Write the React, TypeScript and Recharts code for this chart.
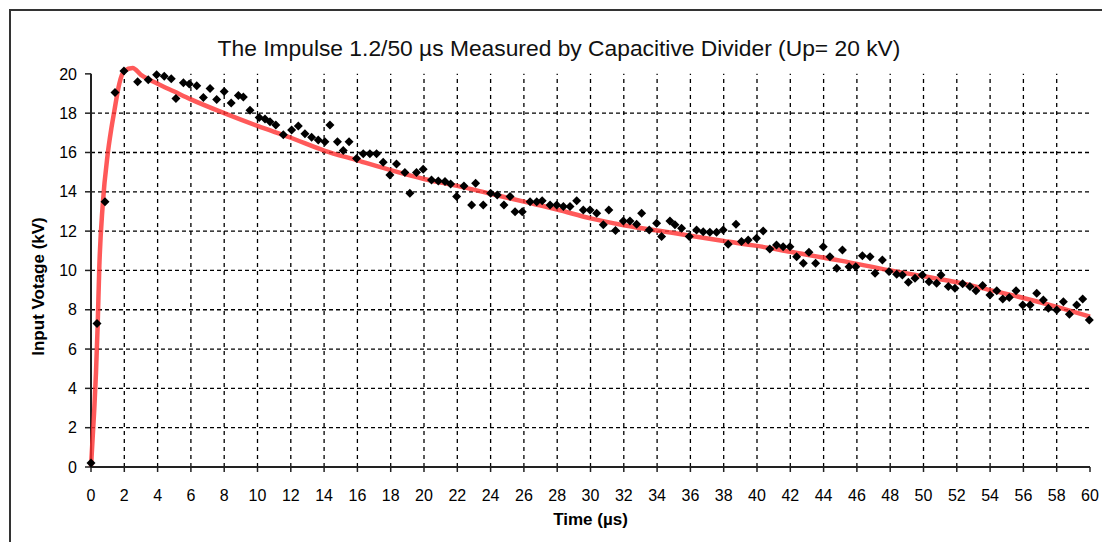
import { ComposedChart, Scatter, Line, XAxis, YAxis, ReferenceLine } from 'recharts'

const measuredTime = [
  0, 0.36, 0.84, 1.44, 1.98, 2.8, 3.44, 3.94, 4.4, 4.82, 5.1, 5.55, 5.9, 6.35, 6.75, 7.15, 7.55, 8.0, 8.42, 8.85,
  9.15, 9.55, 10.1, 10.45, 10.75, 11.1, 11.55, 12.05, 12.45, 12.85, 13.25, 13.65, 14.05, 14.35, 14.8, 15.15, 15.5,
  15.95, 16.35, 16.75, 17.15, 17.55, 17.95, 18.35, 18.85, 19.15, 19.55, 19.95, 20.45, 20.86, 21.26, 21.6, 21.96,
  22.4, 22.86, 23.1, 23.56, 24.0, 24.4, 24.8, 25.17, 25.47, 25.9, 26.37, 26.77, 27.1, 27.57, 27.97, 28.37, 28.77,
  29.17, 29.57, 29.97, 30.37, 30.77, 31.1, 31.5, 31.97, 32.37, 32.77, 33.07, 33.53, 33.97, 34.27, 34.77, 35.07,
  35.47, 35.93, 36.37, 36.77, 37.17, 37.57, 37.97, 38.27, 38.74, 39.07, 39.47, 39.97, 40.37, 40.77, 41.17, 41.57,
  41.98, 42.38, 42.78, 43.12, 43.52, 43.98, 44.38, 44.79, 45.13, 45.53, 45.93, 46.33, 46.79, 47.09, 47.53, 47.93,
  48.39, 48.73, 49.09, 49.49, 49.93, 50.33, 50.79, 51.05, 51.49, 51.89, 52.35, 52.79, 53.15, 53.55, 53.99, 54.4,
  54.76, 55.15, 55.56, 55.96, 56.4, 56.8, 57.2, 57.5, 58.0, 58.4, 58.76, 59.2, 59.56, 59.96,
]
const measuredVoltage = [
  0.2, 7.3, 13.5, 19.05, 20.15, 19.6, 19.7, 19.95, 19.88, 19.75, 18.75, 19.55, 19.48, 19.4, 18.8, 19.25, 18.7, 19.1,
  18.52, 18.9, 18.82, 18.15, 17.78, 17.7, 17.57, 17.4, 16.9, 17.15, 17.35, 16.95, 16.78, 16.64, 16.55, 17.4, 16.55,
  16.1, 16.55, 15.7, 15.93, 15.93, 15.93, 15.5, 14.86, 15.42, 14.98, 13.93, 14.98, 15.15, 14.6, 14.55, 14.52, 14.4,
  13.76, 14.3, 13.33, 14.44, 13.33, 13.93, 13.84, 13.33, 13.76, 12.99, 12.99, 13.5, 13.5, 13.55, 13.33, 13.33,
  13.25, 13.25, 13.55, 13.08, 13.08, 12.91, 12.32, 13.08, 12.03, 12.52, 12.52, 12.35, 12.91, 12.06, 12.4, 11.72,
  12.52, 12.32, 12.15, 11.72, 12.06, 11.97, 11.94, 11.94, 12.06, 11.33, 12.35, 11.47, 11.55, 11.64, 12.01, 11.09,
  11.3, 11.21, 11.21, 10.7, 10.37, 10.92, 10.37, 11.21, 10.7, 10.11, 11.04, 10.19, 10.19, 10.75, 10.7, 9.86, 10.53,
  9.94, 9.81, 9.77, 9.4, 9.6, 9.77, 9.43, 9.35, 9.77, 9.18, 9.09, 9.32, 9.18, 8.96, 9.23, 8.75, 8.96, 8.55, 8.62,
  8.96, 8.24, 8.24, 8.84, 8.5, 8.08, 7.99, 8.41, 7.77, 8.24, 8.55, 7.48,
]

// fitted 1.2/50 curve
const fitTime = [
  0, 0.1, 0.2, 0.3, 0.4, 0.5, 0.7, 1.0, 1.2, 1.4, 1.7, 2.0, 2.5, 3, 4, 5, 6, 8, 10, 12, 14, 16, 18, 20, 22, 24, 26,
  28, 30, 32, 35, 38, 40, 42, 45, 48, 50, 52, 54, 56, 58, 60,
]
const fitVoltage = [
  0, 1.5, 3.0, 4.8, 7.2, 10.2, 13.3, 15.9, 17.1, 18.1, 19.5, 20.15, 20.3, 19.95, 19.5, 19.1, 18.7, 18.0, 17.35,
  16.75, 16.1, 15.6, 15.1, 14.65, 14.3, 13.9, 13.5, 13.1, 12.65, 12.3, 11.9, 11.5, 11.25, 10.95, 10.5, 10.0, 9.7,
  9.4, 9.0, 8.6, 8.15, 7.65,
]

const xTicks = [0, 2, 4, 6, 8, 10, 12, 14, 16, 18, 20, 22, 24, 26, 28, 30, 32, 34, 36, 38, 40, 42, 44, 46, 48, 50, 52, 54, 56, 58, 60]
const yTicks = [0, 2, 4, 6, 8, 10, 12, 14, 16, 18, 20]
const gridX = [2, 4, 6, 8, 10, 12, 14, 16, 18, 20, 22, 24, 26, 28, 30, 32, 34, 36, 38, 40, 42, 44, 46, 48, 50, 52, 54, 56, 58]
const gridY = [2, 4, 6, 8, 10, 12, 14, 16, 18]

const measured = measuredTime.map((t, i) => ({ t, v: measuredVoltage[i] }))
const fit = fitTime.map((t, i) => ({ t, v: fitVoltage[i] }))

const FONT = '"Liberation Sans", Arial, sans-serif'

const Diamond = (props: any) => {
  const { cx, cy } = props
  const r = 4.5
  return <path d={`M${cx},${cy - r}L${cx + r},${cy}L${cx},${cy + r}L${cx - r},${cy}Z`} fill="#000" />
}

const YLabel = (props: any) => {
  const { viewBox } = props
  const x = viewBox.x + 27
  const y = viewBox.y + viewBox.height / 2 + 20
  return (
    <text x={x} y={y} transform={`rotate(-90 ${x} ${y})`} textAnchor="middle" dominantBaseline="central"
      style={{ fontFamily: FONT, fontSize: 17, fontWeight: 'bold', fill: '#000' }}>
      Input Votage (kV)
    </text>
  )
}

export default function App() {
  return (
    <div style={{ position: 'absolute', left: 9, top: 9, width: 1091, height: 531, borderLeft: '2px solid #333', borderTop: '2px solid #333', fontFamily: FONT, overflow: 'hidden' }}>
      <div style={{ position: 'absolute', left: 0, top: 25, width: 1096, textAlign: 'center', fontSize: 22.8, lineHeight: '24px', color: '#111' }}>
        The Impulse 1.2/50 µs Measured by Capacitive Divider (Up= 20 kV)
      </div>
      <ComposedChart width={1091} height={518} margin={{ top: 55, right: 12, bottom: 2, left: 0 }} style={{ position: 'absolute', left: 0, top: 0 }}>
        <XAxis
          dataKey="t"
          type="number"
          domain={[0, 60]}
          ticks={xTicks}
          interval={0}
          height={60}
          tickSize={5}
          tickMargin={18}
          axisLine={{ stroke: '#222', strokeWidth: 2 }}
          tickLine={{ stroke: '#222', strokeWidth: 1.5 }}
          tick={{ fontSize: 16, fill: '#000', fontFamily: FONT }}
          label={{ value: 'Time (µs)', position: 'insideBottom', offset: 2, style: { fontFamily: FONT, fontSize: 17, fontWeight: 'bold', fill: '#000' } }}
        />
        <YAxis
          dataKey="v"
          type="number"
          domain={[0, 20.4]}
          ticks={yTicks}
          interval={0}
          width={80}
          tickSize={6}
          tickMargin={8}
          axisLine={false}
          tickLine={{ stroke: '#222', strokeWidth: 1.5 }}
          tick={{ fontSize: 16, fill: '#000', fontFamily: FONT }}
          label={<YLabel />}
        />
        {gridY.map((g) => (
          <ReferenceLine key={`gy${g}`} segment={[{ x: 0, y: g }, { x: 60, y: g }]} stroke="#000" strokeWidth={1.3} strokeDasharray="4 3" />
        ))}
        {gridX.map((g) => (
          <ReferenceLine key={`gx${g}`} segment={[{ x: g, y: 0 }, { x: g, y: 20 }]} stroke="#000" strokeWidth={1.3} strokeDasharray="4 4" />
        ))}
        <ReferenceLine segment={[{ x: 0, y: 0 }, { x: 0, y: 20 }]} stroke="#222" strokeWidth={2} />
        <Scatter data={measured} dataKey="v" shape={<Diamond />} isAnimationActive={false} />
        <Line data={fit} dataKey="v" type="monotone" stroke="#ff3030" strokeOpacity={0.8} strokeWidth={4.5} dot={false} activeDot={false} isAnimationActive={false} />
      </ComposedChart>
    </div>
  )
}
